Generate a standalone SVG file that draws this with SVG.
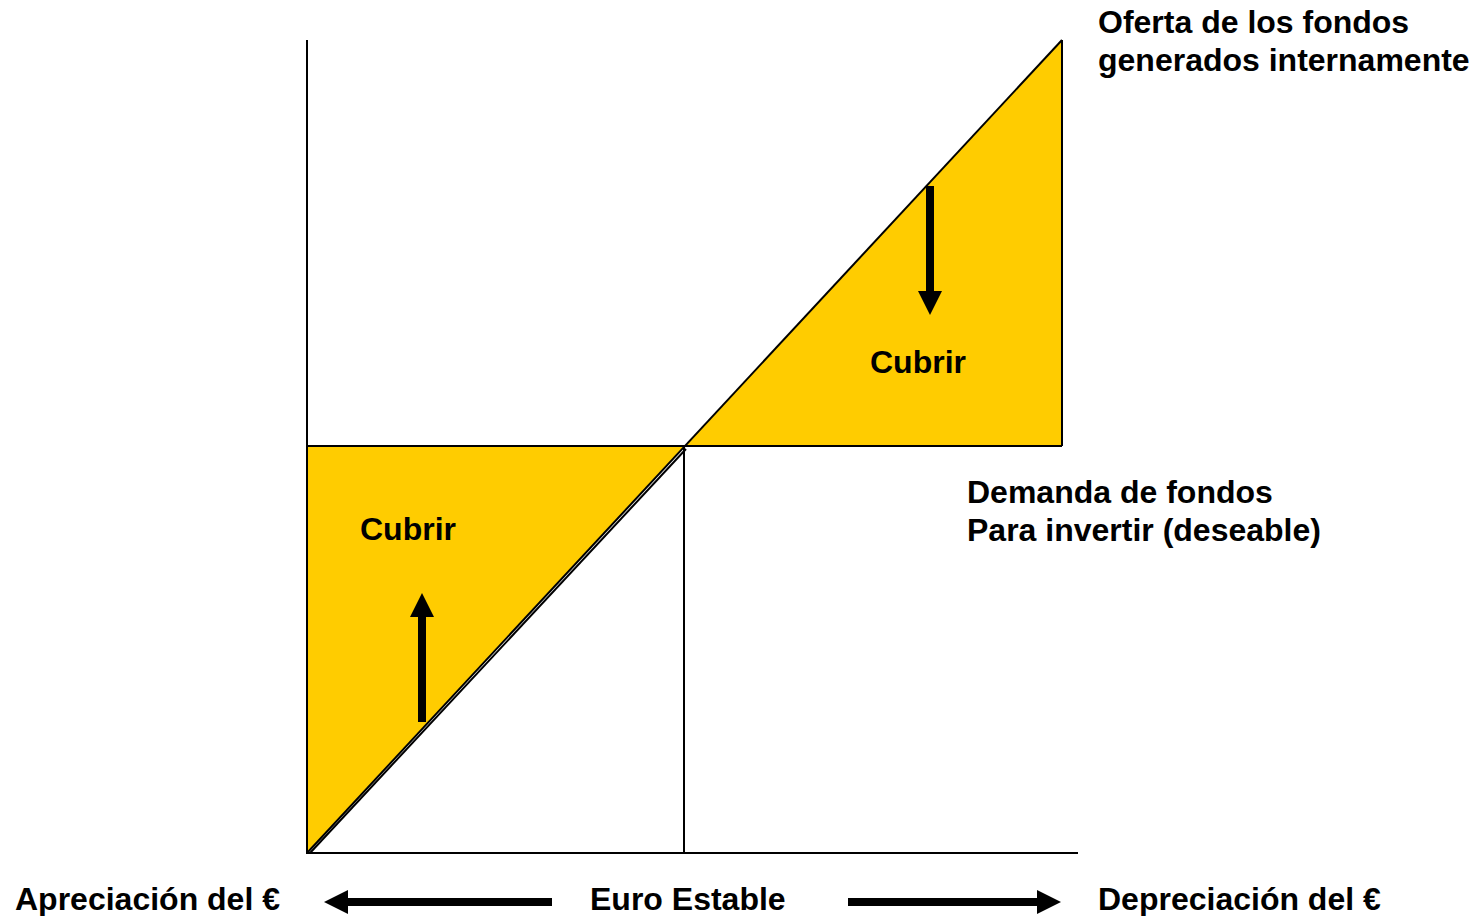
<svg xmlns="http://www.w3.org/2000/svg" width="1476" height="916" viewBox="0 0 1476 916">
<style>
text{font-family:"Liberation Sans",Arial,sans-serif;font-weight:bold;font-size:32px;fill:#000}
.ax{stroke:#000;stroke-width:2;fill:none}
.fill{fill:#FFCC00;stroke:none}
.thick{stroke:#000;stroke-width:8;fill:none}
</style>
<defs>
<marker id="ah" markerUnits="userSpaceOnUse" markerWidth="26" markerHeight="26" refX="0" refY="13" orient="auto" viewBox="0 0 26 26">
<path d="M0,1 L24,13 L0,25 Z" fill="#000"/>
</marker>
</defs>
<g id="regions">
<polygon class="fill" points="307,446 685,446 307,853"/>
<polygon class="fill" points="685,446 1062,40 1062,446"/>
</g>
<g id="connectors">
<line class="ax" x1="307" y1="40" x2="307" y2="854"/>
<line class="ax" x1="306" y1="853" x2="1078" y2="853"/>
<line class="ax" x1="307" y1="446" x2="1062" y2="446"/>
<line class="ax" x1="1062" y1="40" x2="1062" y2="446"/>
<line class="ax" x1="684" y1="446" x2="684" y2="853"/>
<line class="ax" x1="307" y1="853" x2="1062" y2="40"/>
<line class="ax" x1="310" y1="853" x2="686" y2="449" stroke-width="1.5"/>
<line class="thick" x1="422" y1="722" x2="422" y2="617" marker-end="url(#ah)"/>
<line class="thick" x1="930" y1="186" x2="930" y2="291" marker-end="url(#ah)"/>
<line class="thick" x1="552" y1="902" x2="348" y2="902" marker-end="url(#ah)"/>
<line class="thick" x1="848" y1="902" x2="1037" y2="902" marker-end="url(#ah)"/>
</g>
<g id="label-oferta">
<text x="1098" y="33">Oferta de los fondos</text>
<text x="1098" y="71">generados internamente</text>
</g>
<g id="label-cubrir-right"><text x="870" y="373">Cubrir</text></g>
<g id="label-cubrir-left"><text x="360" y="540">Cubrir</text></g>
<g id="label-demanda">
<text x="967" y="503">Demanda de fondos</text>
<text x="967" y="541">Para invertir (deseable)</text>
</g>
<g id="label-apreciacion"><text x="15" y="910">Apreciación del €</text></g>
<g id="label-estable"><text x="590" y="910">Euro Estable</text></g>
<g id="label-depreciacion"><text x="1098" y="910">Depreciación del €</text></g>
</svg>
